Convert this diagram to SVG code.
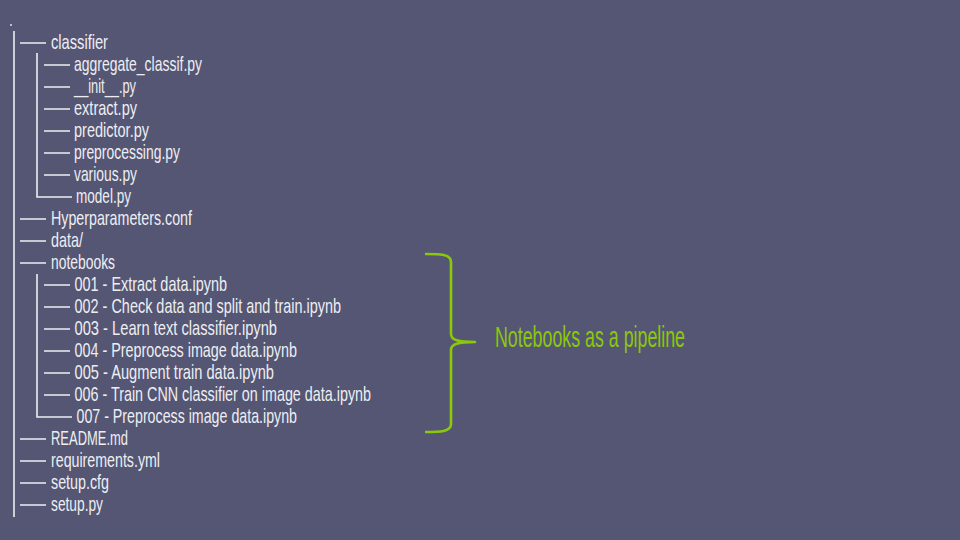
<svg xmlns="http://www.w3.org/2000/svg" width="960" height="540" viewBox="0 0 960 540">
  <style>
    .t { font-family: "Liberation Sans", "DejaVu Sans", sans-serif; font-size: 21px; fill: #eeeef2; }
    .ln { stroke: #eeeef2; stroke-width: 1.6; fill: none; }
    .note { font-family: "Liberation Sans", "DejaVu Sans", sans-serif; font-size: 29px; fill: #8cc80a; }
  </style>
  <rect width="960" height="540" fill="#545674"/>

  <!-- tree lines -->
  <g id="connectors">
    <circle cx="11" cy="25" r="0.9" fill="#eeeef2"/>
    <path class="ln" d="M14,31 V517"/>
    <!-- top level branches -->
    <path class="ln" d="M20,43 H46 M20,219 H46 M20,241 H46 M20,263 H46 M20,439 H46 M20,461 H46 M20,483 H46 M20,505 H46"/>
    <!-- classifier subtree -->
    <path class="ln" d="M37,53 V197 H72"/>
    <path class="ln" d="M44,65 H70 M44,87 H70 M44,109 H70 M44,131 H70 M44,153 H70 M44,175 H70"/>
    <!-- notebooks subtree -->
    <path class="ln" d="M37,274 V417 H72"/>
    <path class="ln" d="M44,285 H70 M44,307 H70 M44,329 H70 M44,351 H70 M44,373 H70 M44,395 H70"/>
    <!-- brace -->
    <path d="M425,254 C440,254 451,254 451,262 L451,334 C451,340 458,342 475,342 C458,342 451,344 451,350 L451,424 C451,432 440,432 425,432" fill="none" stroke="#8cc80a" stroke-width="2.6" stroke-linejoin="round"/>
  </g>

  <g id="classifier"><text class="t" x="51" y="49" textLength="57" lengthAdjust="spacingAndGlyphs">classifier</text></g>
  <g id="aggregate_classif"><text class="t" x="74" y="71" textLength="128" lengthAdjust="spacingAndGlyphs">aggregate_classif.py</text></g>
  <g id="init"><text class="t" x="74" y="93" textLength="62" lengthAdjust="spacingAndGlyphs">__init__.py</text></g>
  <g id="extract"><text class="t" x="74" y="115" textLength="63" lengthAdjust="spacingAndGlyphs">extract.py</text></g>
  <g id="predictor"><text class="t" x="74" y="137" textLength="75" lengthAdjust="spacingAndGlyphs">predictor.py</text></g>
  <g id="preprocessing"><text class="t" x="74" y="159" textLength="106" lengthAdjust="spacingAndGlyphs">preprocessing.py</text></g>
  <g id="various"><text class="t" x="74" y="181" textLength="63" lengthAdjust="spacingAndGlyphs">various.py</text></g>
  <g id="model"><text class="t" x="76" y="203" textLength="55" lengthAdjust="spacingAndGlyphs">model.py</text></g>
  <g id="hyperparameters"><text class="t" x="51" y="225" textLength="141" lengthAdjust="spacingAndGlyphs">Hyperparameters.conf</text></g>
  <g id="data"><text class="t" x="51" y="247" textLength="32" lengthAdjust="spacingAndGlyphs">data/</text></g>
  <g id="notebooks"><text class="t" x="51" y="269" textLength="64" lengthAdjust="spacingAndGlyphs">notebooks</text></g>
  <g id="nb001"><text class="t" x="74.5" y="291" textLength="152.5" lengthAdjust="spacingAndGlyphs">001 - Extract data.ipynb</text></g>
  <g id="nb002"><text class="t" x="74.5" y="313" textLength="266.5" lengthAdjust="spacingAndGlyphs">002 - Check data and split and train.ipynb</text></g>
  <g id="nb003"><text class="t" x="74.5" y="335" textLength="202.5" lengthAdjust="spacingAndGlyphs">003 - Learn text classifier.ipynb</text></g>
  <g id="nb004"><text class="t" x="74.5" y="357" textLength="222.5" lengthAdjust="spacingAndGlyphs">004 - Preprocess image data.ipynb</text></g>
  <g id="nb005"><text class="t" x="74.5" y="379" textLength="199.5" lengthAdjust="spacingAndGlyphs">005 - Augment train data.ipynb</text></g>
  <g id="nb006"><text class="t" x="74.5" y="401" textLength="296.5" lengthAdjust="spacingAndGlyphs">006 - Train CNN classifier on image data.ipynb</text></g>
  <g id="nb007"><text class="t" x="76.5" y="423" textLength="220.5" lengthAdjust="spacingAndGlyphs">007 - Preprocess image data.ipynb</text></g>
  <g id="readme"><text class="t" x="51" y="445" textLength="77" lengthAdjust="spacingAndGlyphs">README.md</text></g>
  <g id="requirements"><text class="t" x="51" y="467" textLength="109" lengthAdjust="spacingAndGlyphs">requirements.yml</text></g>
  <g id="setup_cfg"><text class="t" x="51" y="489" textLength="58" lengthAdjust="spacingAndGlyphs">setup.cfg</text></g>
  <g id="setup_py"><text class="t" x="51" y="511" textLength="52" lengthAdjust="spacingAndGlyphs">setup.py</text></g>

  <g id="pipeline_label"><text class="note" x="495" y="347" textLength="190" lengthAdjust="spacingAndGlyphs">Notebooks as a pipeline</text></g>
</svg>
